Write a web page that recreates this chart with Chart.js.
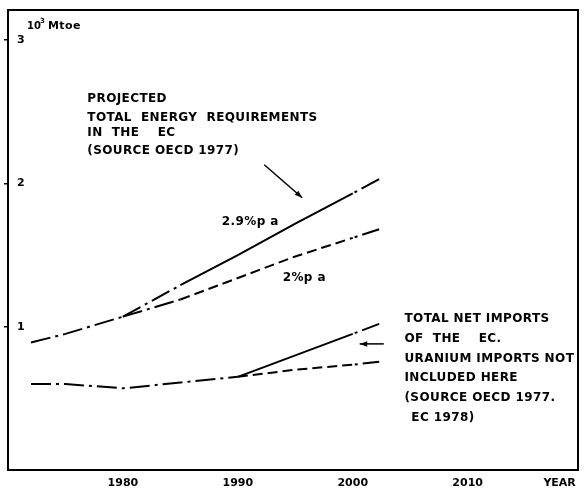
<!DOCTYPE html>
<html>
<head>
<meta charset="utf-8">
<script src="https://cdn.jsdelivr.net/npm/chart.js@4.4.0/dist/chart.umd.min.js"></script>
<style>
  html, body { margin: 0; padding: 0; background: #fff; }
</style>
</head>
<body>
<canvas id="chart" width="584" height="494"></canvas>
<script>
// values (10^3 Mtoe)
const histYears = [1972, 1975, 1980]
const energyHist = [0.89, 0.95, 1.07]
const projYears = [1980, 1985, 1990, 1995, 2000, 2002.3]
const energy29 = [1.07, 1.29, 1.50, 1.72, 1.93, 2.03]
const energy20 = [1.07, 1.19, 1.34, 1.49, 1.62, 1.68]

const importHistYears = [1972, 1975, 1980, 1985, 1990]
const importsHist = [0.60, 0.60, 0.57, 0.61, 0.65]
const importProjYears = [1990, 1995, 2000, 2002.3]
const importsHigh = [0.65, 0.80, 0.95, 1.02]
const importsLow = [0.65, 0.70, 0.735, 0.755]

const xTicks = [1980, 1990, 2000, 2010, 2018]
const xTickLabels = ['1980', '1990', '2000', '2010', 'YEAR']
const yTicks = [1, 2, 3]

const FONT = 'DejaVu Sans'
const DASH_DOT = [20, 5, 3, 5]
const DASHED = [10, 5]

const toPoints = (xs, ys) => xs.map((x, i) => ({ x: x, y: ys[i] }))

// text notes, placed in data units
const notes = [
  { x: 1976.9, y: 2.59, text: 'PROJECTED' },
  { x: 1976.9, y: 2.46, text: 'TOTAL  ENERGY  REQUIREMENTS' },
  { x: 1976.9, y: 2.35, text: 'IN  THE    EC' },
  { x: 1976.9, y: 2.23, text: '(SOURCE OECD 1977)' },
  { x: 1988.6, y: 1.73, text: '2.9%p a' },
  { x: 1993.9, y: 1.34, text: '2%p a' },
  { x: 2004.5, y: 1.056, text: 'TOTAL NET IMPORTS' },
  { x: 2004.5, y: 0.916, text: 'OF  THE    EC.' },
  { x: 2004.5, y: 0.776, text: 'URANIUM IMPORTS NOT' },
  { x: 2004.5, y: 0.643, text: 'INCLUDED HERE' },
  { x: 2004.5, y: 0.503, text: '(SOURCE OECD 1977.' },
  { x: 2005.1, y: 0.364, text: 'EC 1978)' },
]
const arrows = [
  { from: [1992.3, 2.13], to: [1995.6, 1.90] },
  { from: [2002.7, 0.88], to: [2000.6, 0.88] },
]

const annotate = {
  id: 'annotate',
  afterDraw(chart) {
    const { ctx, chartArea, scales } = chart
    const sx = scales.x, sy = scales.y
    ctx.save()
    // frame
    ctx.strokeStyle = '#000'
    ctx.lineWidth = 2
    ctx.strokeRect(chartArea.left, chartArea.top, chartArea.right - chartArea.left, chartArea.bottom - chartArea.top)

    // unit label
    ctx.fillStyle = '#000'
    ctx.textBaseline = 'middle'
    ctx.textAlign = 'left'
    ctx.font = 'bold 10px ' + FONT
    ctx.fillText('10', 27, 26)
    ctx.font = 'bold 7px ' + FONT
    ctx.fillText('3', 40, 21)
    ctx.font = 'bold 11px ' + FONT
    ctx.letterSpacing = '0.4px'
    ctx.fillText('Mtoe', 48, 26)

    ctx.font = 'bold 12px ' + FONT
    ctx.letterSpacing = '0.4px'
    notes.forEach((n) => {
      ctx.fillText(n.text, sx.getPixelForValue(n.x), sy.getPixelForValue(n.y))
    })
    ctx.letterSpacing = '0px'

    ctx.lineWidth = 1.5
    arrows.forEach((a) => {
      const x0 = sx.getPixelForValue(a.from[0]), y0 = sy.getPixelForValue(a.from[1])
      const x1 = sx.getPixelForValue(a.to[0]), y1 = sy.getPixelForValue(a.to[1])
      const ang = Math.atan2(y1 - y0, x1 - x0)
      ctx.beginPath()
      ctx.moveTo(x0, y0)
      ctx.lineTo(x1, y1)
      ctx.stroke()
      ctx.beginPath()
      ctx.moveTo(x1, y1)
      ctx.lineTo(x1 - 8 * Math.cos(ang - 0.35), y1 - 8 * Math.sin(ang - 0.35))
      ctx.lineTo(x1 - 8 * Math.cos(ang + 0.35), y1 - 8 * Math.sin(ang + 0.35))
      ctx.closePath()
      ctx.fill()
    })
    ctx.restore()
  },
}

const lineSet = (data, segDash, lastIdx) => ({
  data: data,
  borderColor: '#000',
  borderWidth: 2,
  pointRadius: 0,
  tension: 0,
  fill: false,
  segment: {
    borderDash: segDash,
    // the short end pieces start on a dot, as in the print
    borderDashOffset: (c) => (c.p0DataIndex === lastIdx ? 23 : 0),
  },
})

new Chart(document.getElementById('chart'), {
  type: 'line',
  plugins: [annotate],
  data: {
    datasets: [
      lineSet(toPoints(histYears, energyHist), () => DASH_DOT, -1),
      lineSet(toPoints(projYears, energy29), (c) => (c.p0DataIndex === 0 || c.p0DataIndex === 4 ? DASH_DOT : []), 4),
      lineSet(toPoints(projYears, energy20), (c) => (c.p0DataIndex === 0 || c.p0DataIndex === 4 ? DASH_DOT : DASHED), 4),
      lineSet(toPoints(importHistYears, importsHist), () => DASH_DOT, -1),
      lineSet(toPoints(importProjYears, importsHigh), (c) => (c.p0DataIndex === 2 ? DASH_DOT : []), 2),
      lineSet(toPoints(importProjYears, importsLow), (c) => (c.p0DataIndex === 2 ? DASH_DOT : DASHED), 2),
    ],
  },
  options: {
    responsive: false,
    animation: false,
    layout: { padding: { left: 8, top: 10, right: 6, bottom: 0 } },
    plugins: { legend: { display: false }, tooltip: { enabled: false } },
    scales: {
      x: {
        type: 'linear',
        min: 1970,
        max: 2019.6,
        afterBuildTicks: (s) => { s.ticks = xTicks.map((v) => ({ value: v })) },
        afterFit: (s) => { s.height = 24 },
        grid: { display: false, drawTicks: false },
        border: { display: false },
        ticks: {
          padding: 7,
          color: '#000',
          autoSkip: false,
          maxRotation: 0,
          font: { family: FONT, size: 11, weight: 'bold' },
          callback: (v, i) => xTickLabels[i],
        },
      },
      y: {
        min: 0,
        max: 3.21,
        afterBuildTicks: (s) => { s.ticks = yTicks.map((v) => ({ value: v })) },
        afterFit: (s) => {
          s.width = 0
          s.paddingTop = 0
          s.paddingBottom = 0
        },
        grid: { display: true, drawOnChartArea: false, drawTicks: true, tickLength: 4, color: '#000', lineWidth: 1.5 },
        border: { display: false },
        ticks: {
          mirror: true,
          padding: 9,
          color: '#000',
          font: { family: FONT, size: 11, weight: 'bold' },
        },
      },
    },
  },
})
</script>
</body>
</html>
